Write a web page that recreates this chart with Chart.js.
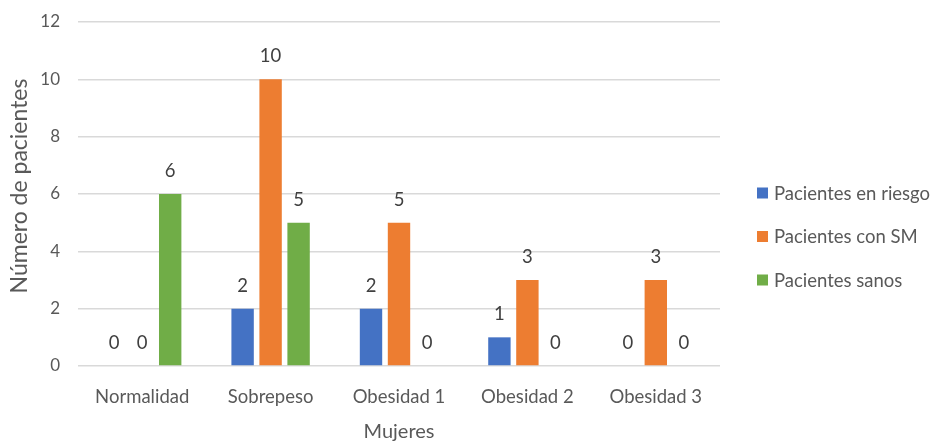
<!DOCTYPE html>
<html>
<head>
<meta charset="utf-8">
<script src="https://cdn.jsdelivr.net/npm/chart.js@4.4.1/dist/chart.umd.min.js"></script>
<style>
  html, body { margin: 0; padding: 0; background: #ffffff; }
  #wrap { width: 938px; height: 446px; position: relative; }
</style>
</head>
<body>
<div id="wrap"><canvas id="chart" width="938" height="446"></canvas></div>
<script>
// Categories (BMI groups) and patient counts per group
const categories = ['Normalidad', 'Sobrepeso', 'Obesidad 1', 'Obesidad 2', 'Obesidad 3'];
const seriesNames = ['Pacientes en riesgo', 'Pacientes con SM', 'Pacientes sanos'];
const enRiesgo = [0, 2, 2, 1, 0];
const conSM = [0, 10, 5, 3, 3];
const sanos = [6, 5, 0, 0, 0];
const yTicks = [0, 2, 4, 6, 8, 10, 12];
const yTitle = 'Número de pacientes';
const xTitle = 'Mujeres';

const colors = ['#4472C4', '#ED7D31', '#70AD47'];
const FONT = 'Lato, "Open Sans", sans-serif';

// Value labels above each bar
const valueLabels = {
  id: 'valueLabels',
  afterDatasetsDraw(chart) {
    const ctx = chart.ctx;
    ctx.save();
    ctx.font = '18.5px ' + FONT;
    ctx.fillStyle = '#404040';
    ctx.textAlign = 'center';
    ctx.textBaseline = 'middle';
    chart.data.datasets.forEach((ds, i) => {
      const meta = chart.getDatasetMeta(i);
      meta.data.forEach((bar, j) => {
        ctx.fillText(String(ds.data[j]), bar.x, bar.y - 23);
      });
    });
    ctx.restore();
  }
};

// Vertical legend to the right of the plot, plus the rotated y-axis title
const sideLegend = {
  id: 'sideLegend',
  afterDraw(chart) {
    const ctx = chart.ctx;
    ctx.save();
    ctx.font = '18.5px ' + FONT;
    ctx.textBaseline = 'middle';
    ctx.textAlign = 'left';
    const x = 757, y0 = 193, step = 43.5, box = 11;
    chart.data.datasets.forEach((ds, i) => {
      const y = y0 + i * step;
      ctx.fillStyle = ds.backgroundColor;
      ctx.fillRect(x, y - box / 2, box, box);
      ctx.fillStyle = '#595959';
      ctx.fillText(ds.label, x + 17, y + 1);
    });
    ctx.restore();

    ctx.save();
    ctx.translate(20, 186);
    ctx.rotate(-Math.PI / 2);
    ctx.font = '23px ' + FONT;
    ctx.fillStyle = '#595959';
    ctx.textAlign = 'center';
    ctx.textBaseline = 'middle';
    ctx.fillText(yTitle, 0, 0);
    ctx.restore();
  }
};

const seriesData = [enRiesgo, conSM, sanos];

new Chart(document.getElementById('chart'), {
  type: 'bar',
  data: {
    labels: categories,
    datasets: seriesNames.map((name, i) => ({
      label: name,
      data: seriesData[i],
      backgroundColor: colors[i],
      borderWidth: 0,
      categoryPercentage: 0.654,
      barPercentage: 0.8
    }))
  },
  options: {
    responsive: false,
    animation: false,
    layout: { padding: { top: 22, right: 218, bottom: 0, left: 0 } },
    plugins: {
      legend: { display: false },
      tooltip: { enabled: false }
    },
    scales: {
      x: {
        grid: { display: false },
        border: { display: false },
        ticks: { color: '#595959', font: { family: FONT, size: 18.5 }, padding: 12 },
        title: {
          display: true, text: xTitle, color: '#595959',
          font: { family: FONT, size: 20 }, padding: { top: 4, bottom: 2 }
        },
        afterFit(scale) {
          scale.height = 80;
          scale.paddingLeft = 0;
          scale.paddingRight = 0;
        }
      },
      y: {
        min: 0, max: 12,
        afterBuildTicks(scale) { scale.ticks = yTicks.map(v => ({ value: v })); },
        grid: { color: '#d9d9d9', lineWidth: 1.5, drawTicks: false },
        border: { display: false },
        ticks: { color: '#595959', font: { family: FONT, size: 17 }, padding: 18 },
        afterFit(scale) {
          scale.width = 78;
          scale.paddingTop = 0;
          scale.paddingBottom = 0;
        }
      }
    }
  },
  plugins: [valueLabels, sideLegend]
});
</script>
</body>
</html>
